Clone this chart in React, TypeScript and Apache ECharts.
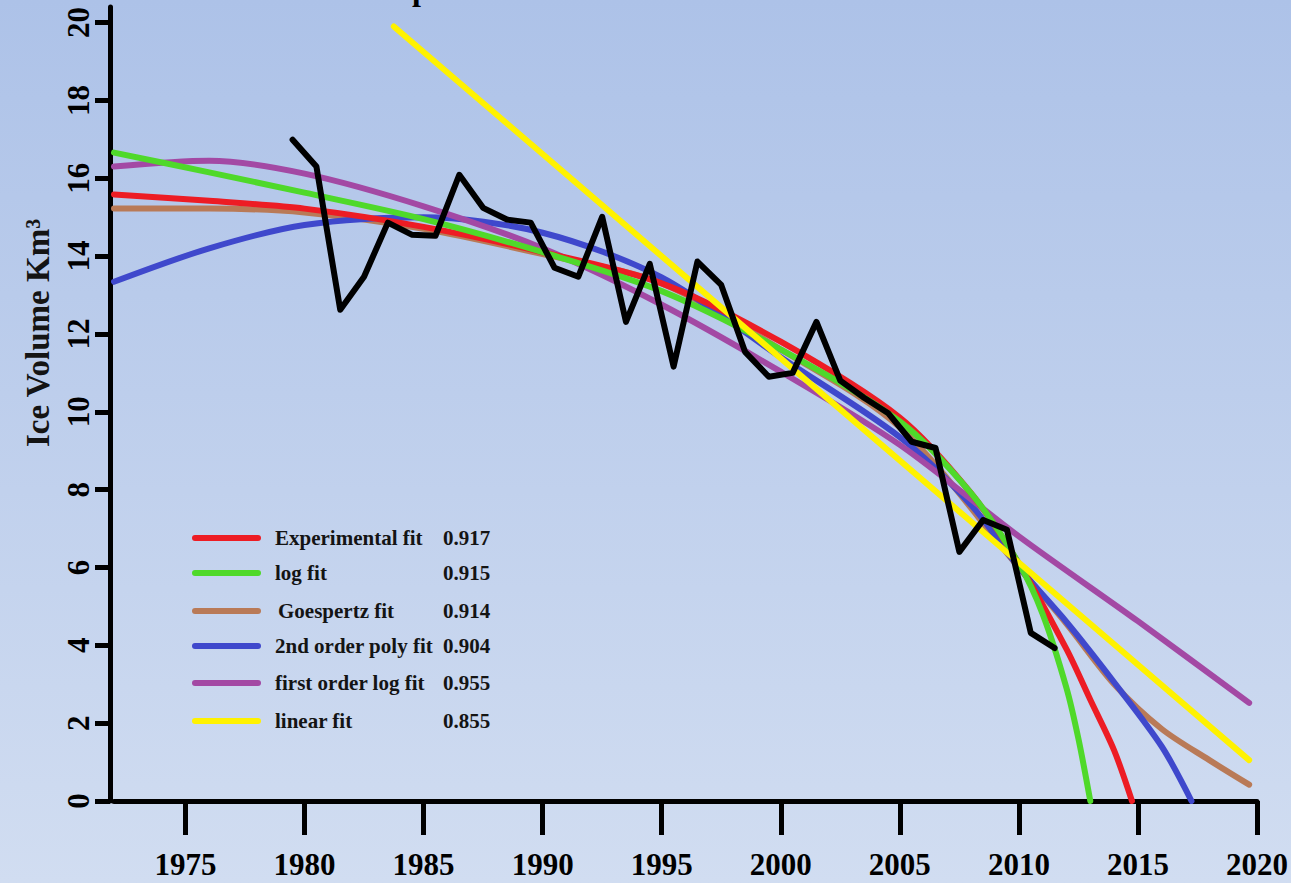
import { useEffect, useRef } from 'react';
import * as echarts from 'echarts';

// Observed ice volume (10^3 km^3), one value per year
const years = [
  1979, 1980, 1981, 1982, 1983, 1984, 1985, 1986, 1987, 1988, 1989,
  1990, 1991, 1992, 1993, 1994, 1995, 1996, 1997, 1998, 1999, 2000,
  2001, 2002, 2003, 2004, 2005, 2006, 2007, 2008, 2009, 2010, 2011,
];
const iceVolume = [
  16.99, 16.3, 12.62, 13.47, 14.86, 14.55, 14.52, 16.09, 15.24, 14.94, 14.86,
  13.7, 13.47, 15.01, 12.31, 13.8, 11.16, 13.86, 13.26, 11.54, 10.9, 11.0,
  12.31, 10.8, 10.36, 9.97, 9.23, 9.07, 6.4, 7.22, 6.97, 4.32, 3.93,
];

// Fitted curves as [year, volume]
const experimentalFit: [number, number][] = [
  [1972, 15.58], [1976, 15.42], [1980, 15.22], [1985, 14.75], [1990, 14.1],
  [1995, 13.3], [2000, 11.8], [2005, 9.85], [2008, 7.9],
  [2010, 6.1], [2012, 3.9], [2013, 2.6], [2014, 1.3], [2014.75, 0],
];
const logFit: [number, number][] = [
  [1972, 16.66], [1976, 16.15], [1980, 15.63], [1985, 14.95], [1990, 14.1],
  [1995, 13.1], [2000, 11.6], [2005, 9.75], [2008, 7.9], [2010, 6.1],
  [2011, 4.8], [2012, 2.9], [2012.5, 1.6], [2013, 0],
];
const gompertzFit: [number, number][] = [
  [1972, 15.22], [1976, 15.22], [1980, 15.12], [1985, 14.7], [1990, 14.05],
  [1995, 13.3], [2000, 11.6], [2005, 9.6], [2010, 6.0], [2012, 4.55],
  [2014, 3.0], [2016, 1.85], [2018, 1.05], [2019.67, 0.42],
];
const polyFit: [number, number][] = [
  [1972, 13.34], [1976, 14.2], [1980, 14.8], [1985, 15.0], [1990, 14.6],
  [1995, 13.45], [2000, 11.4], [2005, 9.35], [2008, 7.6], [2010, 6.0],
  [2012, 4.6], [2014, 3.05], [2016, 1.4], [2017.25, 0],
];
const firstOrderLogFit: [number, number][] = [
  [1972, 16.3], [1976, 16.45], [1980, 16.12], [1985, 15.28], [1990, 14.2],
  [1995, 12.75], [2000, 11.03], [2005, 9.15], [2010, 6.8],
  [2015, 4.62], [2019.67, 2.52],
];
const linearFit: [number, number][] = [
  [1983.75, 19.9], [2019.67, 1.05],
];

const fitNames = [
  'Experimental fit', 'log fit', 'Goespertz fit',
  '2nd order poly fit', 'first order log fit', 'linear fit',
];
const fitScores = ['0.917', '0.915', '0.914', '0.904', '0.955', '0.855'];
const fitData = [experimentalFit, logFit, gompertzFit, polyFit, firstOrderLogFit, linearFit];

const xTicks = [1975, 1980, 1985, 1990, 1995, 2000, 2005, 2010, 2015, 2020];
const yTicks = [0, 2, 4, 6, 8, 10, 12, 14, 16, 18, 20];

// Styling
const fitColors = ['#ed1c24', '#4fd92a', '#b97a57', '#3f48cc', '#a349a4', '#fff200'];
// drawing order, bottom to top
const drawOrder = [2, 3, 4, 0, 1, 5];
const SERIF = '"Liberation Serif", "Times New Roman", serif';
const legendRows = [538, 573, 611, 646, 683, 721];
const legendNameX = [275, 275, 278, 275, 275, 275];

export default function App() {
  const ref = useRef<HTMLDivElement>(null);

  useEffect(() => {
    const chart = echarts.init(ref.current!, null, { renderer: 'svg' });

    const fitSeries = drawOrder.map((i) => ({
      type: 'line',
      name: fitNames[i],
      data: fitData[i],
      showSymbol: false,
      symbol: 'none',
      smooth: fitData[i].length > 2 ? 0.3 : false,
      lineStyle: { color: fitColors[i], width: 6, cap: 'round' },
      z: 2,
    }));

    const legendGraphics: any[] = [];
    fitNames.forEach((name, i) => {
      legendGraphics.push({
        type: 'line',
        shape: { x1: 195, y1: legendRows[i], x2: 258, y2: legendRows[i] },
        style: { stroke: fitColors[i], lineWidth: 6, lineCap: 'round' },
      });
      legendGraphics.push({
        type: 'text',
        x: legendNameX[i],
        y: legendRows[i],
        style: {
          text: name,
          fill: '#141414',
          font: `bold 21px ${SERIF}`,
          verticalAlign: 'middle',
        },
      });
      legendGraphics.push({
        type: 'text',
        x: 443,
        y: legendRows[i],
        style: {
          text: fitScores[i],
          fill: '#141414',
          font: `bold 21px ${SERIF}`,
          verticalAlign: 'middle',
        },
      });
    });

    const option = {
      animation: false,
      backgroundColor: {
        type: 'linear',
        x: 0, y: 0, x2: 0, y2: 1,
        colorStops: [
          { offset: 0, color: '#adc2e8' },
          { offset: 1, color: '#d1ddf1' },
        ],
      },
      grid: { left: 114, right: 25, top: 7, bottom: 82 },
      xAxis: {
        type: 'value',
        min: 1972,
        max: 2020,
        axisLine: { show: true, lineStyle: { color: '#000', width: 5 } },
        axisTick: {
          show: true,
          length: 34,
          customValues: xTicks,
          lineStyle: { color: '#000', width: 5 },
        },
        axisLabel: {
          customValues: xTicks,
          formatter: (v: number) => String(v),
          color: '#000',
          fontFamily: SERIF,
          fontWeight: 'bold',
          fontSize: 31,
          lineHeight: 31,
          margin: 48,
        },
        splitLine: { show: false },
      },
      yAxis: {
        type: 'value',
        min: 0,
        max: 20.4,
        offset: 4,
        axisLine: { show: true, lineStyle: { color: '#000', width: 5 } },
        axisTick: {
          show: true,
          length: 15,
          customValues: yTicks,
          lineStyle: { color: '#000', width: 5 },
        },
        axisLabel: {
          customValues: yTicks,
          formatter: (v: number) => String(v),
          rotate: 90,
          color: '#000',
          fontFamily: SERIF,
          fontWeight: 'bold',
          fontSize: 31,
          margin: 16,
        },
        splitLine: { show: false },
      },
      series: [
        ...fitSeries,
        {
          type: 'line',
          name: 'Ice volume',
          data: years.map((y, k) => [y + 0.5, iceVolume[k]]),
          showSymbol: false,
          symbol: 'none',
          lineStyle: { color: '#000', width: 6, join: 'round', cap: 'round' },
          z: 3,
        },
      ],
      graphic: [
        {
          type: 'text',
          x: 38,
          y: 333,
          rotation: Math.PI / 2,
          style: {
            text: 'Ice Volume Km³',
            fill: '#141414',
            font: `bold 33px ${SERIF}`,
            align: 'center',
            verticalAlign: 'middle',
          },
        },
        {
          type: 'text',
          x: 412,
          y: -11,
          style: {
            text: 'p',
            fill: '#000',
            font: `bold 32px ${SERIF}`,
            verticalAlign: 'middle',
          },
        },
        ...legendGraphics,
      ],
    };

    chart.setOption(option as any);
    return () => chart.dispose();
  }, []);

  return (
    <div
      ref={ref}
      style={{ position: 'absolute', left: 0, top: 0, width: 1291, height: 883 }}
    />
  );
}
